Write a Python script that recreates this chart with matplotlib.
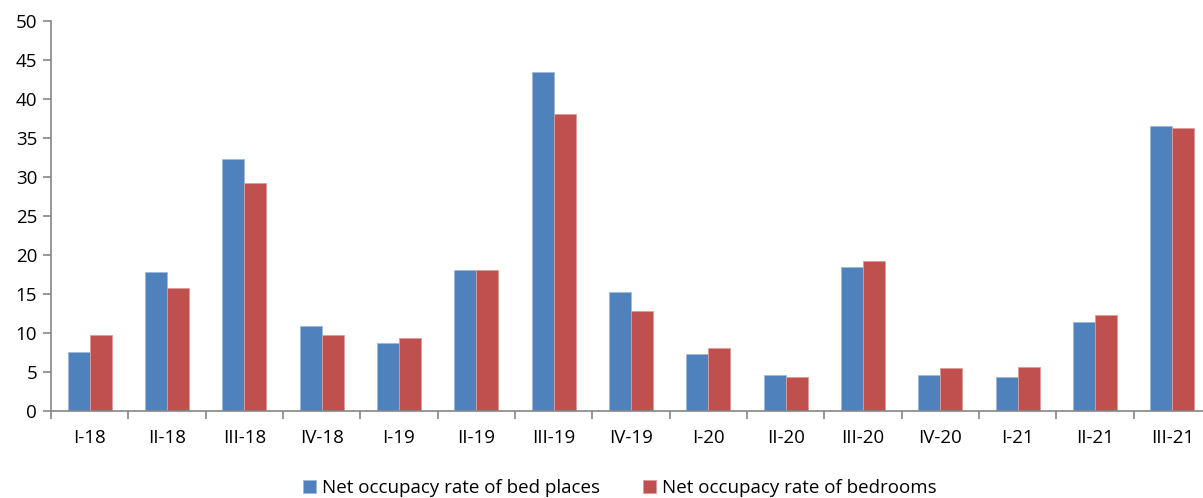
import matplotlib.pyplot as plt
import numpy as np

quarters = ["I-18", "II-18", "III-18", "IV-18", "I-19", "II-19", "III-19", "IV-19",
            "I-20", "II-20", "III-20", "IV-20", "I-21", "II-21", "III-21"]
bed_places = [7.5, 17.8, 32.3, 10.9, 8.7, 18.0, 43.4, 15.3, 7.3, 4.6, 18.4, 4.6, 4.3, 11.4, 36.5]
bedrooms = [9.7, 15.7, 29.2, 9.7, 9.4, 18.0, 38.1, 12.8, 8.1, 4.4, 19.2, 5.5, 5.6, 12.3, 36.3]

BLUE = "#4F81BD"
RED = "#C0504D"
AXIS_GREY = "#868686"
BAR_W = 0.285
FONT_SIZE = 13.5

plt.rcParams["font.family"] = ["Open Sans", "DejaVu Sans"]

fig = plt.figure(figsize=(12.03, 4.98), dpi=100)
ax = fig.add_axes([51 / 1203, 87 / 498, 1160 / 1203, 390.3 / 498])

x = np.arange(len(quarters))
ax.bar(x - BAR_W / 2, bed_places, BAR_W, color=BLUE, edgecolor="#9DB9DC", linewidth=0.6,
       label="Net occupacy rate of bed places")
ax.bar(x + BAR_W / 2, bedrooms, BAR_W, color=RED, edgecolor="#DC9B99", linewidth=0.6,
       label="Net occupacy rate of bedrooms")

ax.set_xlim(-0.5, len(quarters) - 0.5)
ax.set_ylim(0, 50)
ax.set_yticks(range(0, 51, 5))
ax.set_xticks(x)
ax.set_xticklabels(quarters)
ax.set_xticks(np.arange(-0.5, len(quarters), 1), minor=True)

for side in ("top", "right"):
    ax.spines[side].set_visible(False)
for side in ("left", "bottom"):
    ax.spines[side].set_color(AXIS_GREY)
    ax.spines[side].set_linewidth(1.2)

ax.tick_params(axis="y", length=6, width=1.2, color=AXIS_GREY, labelsize=FONT_SIZE, pad=4)
ax.tick_params(axis="x", which="major", length=0, labelsize=FONT_SIZE, pad=13)
ax.tick_params(axis="x", which="minor", length=6, width=1.2, color=AXIS_GREY)

fig.legend(loc="center", bbox_to_anchor=(0.515, 0.02), ncol=2, frameon=False,
           fontsize=FONT_SIZE, handlelength=0.7, handleheight=0.7, handletextpad=0.3,
           columnspacing=2.3)

fig.savefig("out.png", dpi=100)
